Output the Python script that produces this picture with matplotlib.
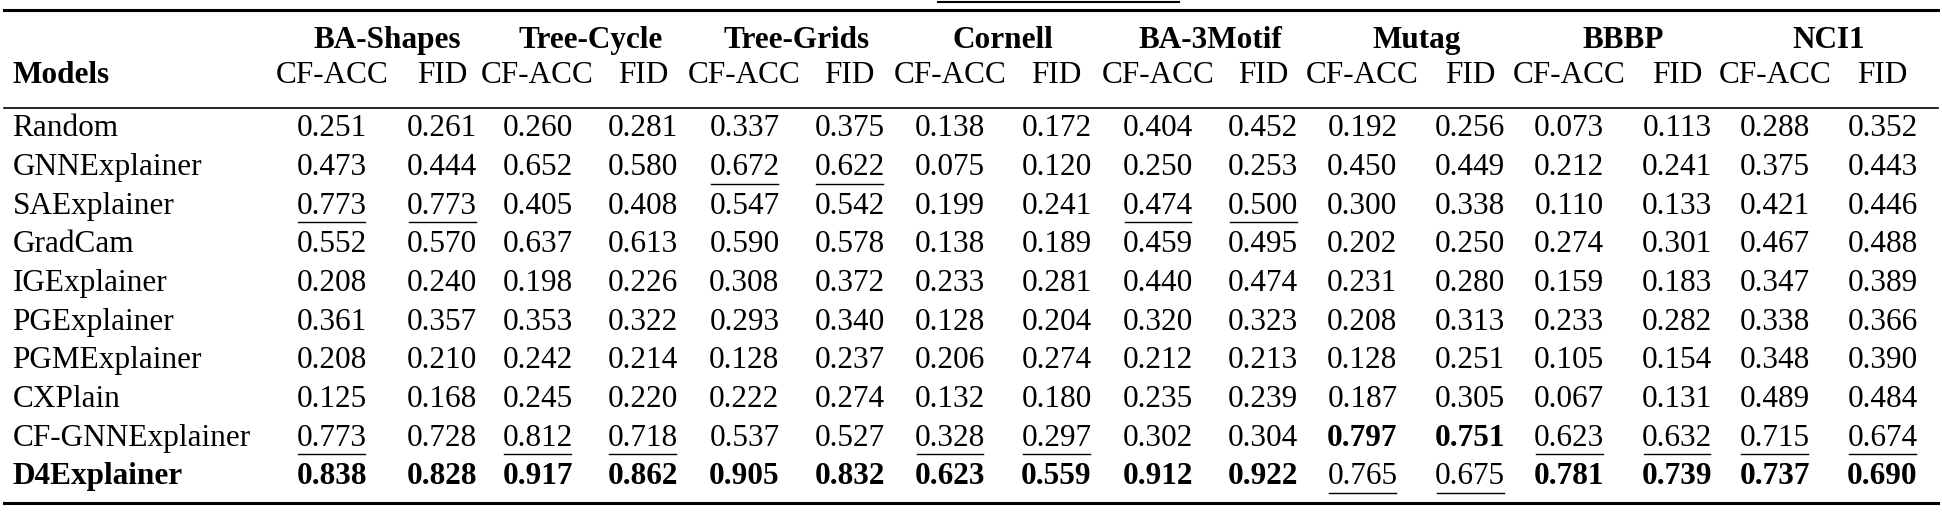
import matplotlib
matplotlib.use("Agg")
import matplotlib.pyplot as plt

datasets = ["BA-Shapes", "Tree-Cycle", "Tree-Grids", "Cornell", "BA-3Motif", "Mutag", "BBBP", "NCI1"]
metrics = ["CF-ACC", "FID"]
models = ["Random", "GNNExplainer", "SAExplainer", "GradCam", "IGExplainer", "PGExplainer",
          "PGMExplainer", "CXPlain", "CF-GNNExplainer", "D4Explainer"]
values = [
    ["0.251", "0.261", "0.260", "0.281", "0.337", "0.375", "0.138", "0.172", "0.404", "0.452", "0.192", "0.256", "0.073", "0.113", "0.288", "0.352"],
    ["0.473", "0.444", "0.652", "0.580", "0.672", "0.622", "0.075", "0.120", "0.250", "0.253", "0.450", "0.449", "0.212", "0.241", "0.375", "0.443"],
    ["0.773", "0.773", "0.405", "0.408", "0.547", "0.542", "0.199", "0.241", "0.474", "0.500", "0.300", "0.338", "0.110", "0.133", "0.421", "0.446"],
    ["0.552", "0.570", "0.637", "0.613", "0.590", "0.578", "0.138", "0.189", "0.459", "0.495", "0.202", "0.250", "0.274", "0.301", "0.467", "0.488"],
    ["0.208", "0.240", "0.198", "0.226", "0.308", "0.372", "0.233", "0.281", "0.440", "0.474", "0.231", "0.280", "0.159", "0.183", "0.347", "0.389"],
    ["0.361", "0.357", "0.353", "0.322", "0.293", "0.340", "0.128", "0.204", "0.320", "0.323", "0.208", "0.313", "0.233", "0.282", "0.338", "0.366"],
    ["0.208", "0.210", "0.242", "0.214", "0.128", "0.237", "0.206", "0.274", "0.212", "0.213", "0.128", "0.251", "0.105", "0.154", "0.348", "0.390"],
    ["0.125", "0.168", "0.245", "0.220", "0.222", "0.274", "0.132", "0.180", "0.235", "0.239", "0.187", "0.305", "0.067", "0.131", "0.489", "0.484"],
    ["0.773", "0.728", "0.812", "0.718", "0.537", "0.527", "0.328", "0.297", "0.302", "0.304", "0.797", "0.751", "0.623", "0.632", "0.715", "0.674"],
    ["0.838", "0.828", "0.917", "0.862", "0.905", "0.832", "0.623", "0.559", "0.912", "0.922", "0.765", "0.675", "0.781", "0.739", "0.737", "0.690"],
]
bold_cells = {(9, c) for c in range(16) if c not in (10, 11)} | {(8, 10), (8, 11)}
underline_cells = {(2, 0), (2, 1), (1, 4), (1, 5), (2, 8), (2, 9), (8, 0), (8, 2), (8, 3),
                   (8, 6), (8, 7), (8, 12), (8, 13), (8, 14), (8, 15), (9, 10), (9, 11)}

W, H = 1568, 418
fig = plt.figure(figsize=(19.42, 5.18), dpi=100)
FONT = "Liberation Serif"
FS = 22.5

def fx(x): return x / W
def fy(y): return 1 - y / H

col_x = [268, 357, 434, 519, 601, 686, 767, 853, 935, 1020, 1100, 1187, 1267, 1354, 1433, 1520]
row_y = [104 + i * 31.2 for i in range(len(models))]

fig.add_artist(plt.Line2D([fx(757), fx(952)], [fy(2), fy(2)], color="black", lw=1.5))
fig.add_artist(plt.Line2D([fx(3), fx(1565)], [fy(8), fy(8)], color="black", lw=2.2))
fig.add_artist(plt.Line2D([fx(3), fx(1565)], [fy(87), fy(87)], color="black", lw=1.2))
fig.add_artist(plt.Line2D([fx(3), fx(1565)], [fy(406), fy(406)], color="black", lw=2.2))

for i, d in enumerate(datasets):
    cx = (col_x[2 * i] + col_x[2 * i + 1]) / 2
    fig.text(fx(cx), fy(33), d, ha="center", va="center", fontsize=FS, fontweight="bold", family=FONT)
for j in range(16):
    fig.text(fx(col_x[j]), fy(61), metrics[j % 2], ha="center", va="center", fontsize=FS, family=FONT)
fig.text(fx(10), fy(61), "Models", ha="left", va="center", fontsize=FS, fontweight="bold", family=FONT)

for r, m in enumerate(models):
    y = row_y[r]
    fig.text(fx(10), fy(y), m, ha="left", va="center", fontsize=FS, family=FONT,
             fontweight="bold" if r == 9 else "normal")
    for c in range(16):
        fig.text(fx(col_x[c]), fy(y), values[r][c], ha="center", va="center", fontsize=FS,
                 family=FONT, fontweight="bold" if (r, c) in bold_cells else "normal")
        if (r, c) in underline_cells:
            fig.add_artist(plt.Line2D([fx(col_x[c] - 27), fx(col_x[c] + 27)], [fy(y + 13), fy(y + 13)],
                                      color="black", lw=1.0))

fig.savefig("out.png", dpi=100)
